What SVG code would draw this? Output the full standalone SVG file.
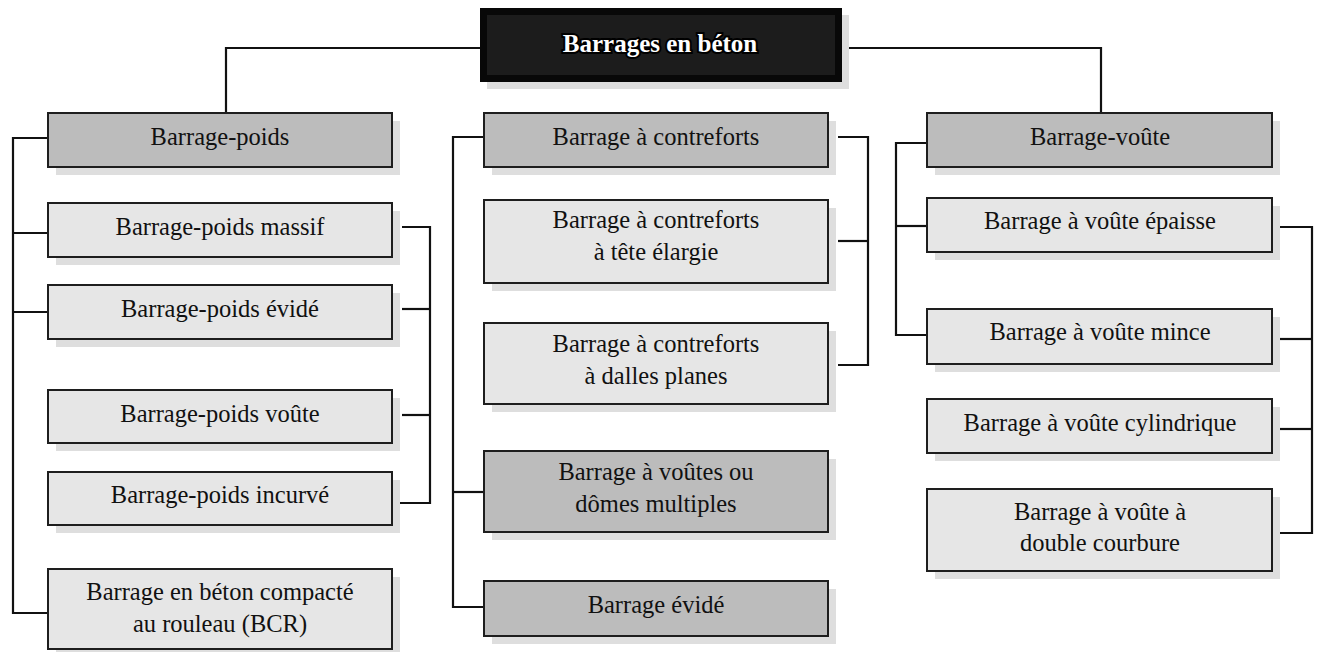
<svg xmlns="http://www.w3.org/2000/svg" width="1318" height="652" viewBox="0 0 1318 652">
<style>
.sh{fill:#dedede}
.lt{fill:#e6e6e6;stroke:#1e1e1e;stroke-width:2}
.dk{fill:#bcbcbc;stroke:#1e1e1e;stroke-width:2}
.t{font-family:"Liberation Serif","Times New Roman",serif;font-size:24.5px;fill:#111;text-anchor:middle}
.tt{font-family:"Liberation Serif","Times New Roman",serif;font-size:25px;font-weight:bold;fill:#fff;text-anchor:middle}
.c{fill:none;stroke:#111;stroke-width:2.2}
</style>
<rect width="1318" height="652" fill="#fff"/>
<g id="connectors">
<polyline class="c" points="480,48 226,48 226,113"/>
<polyline class="c" points="848,48 1101,48 1101,113"/>
<polyline class="c" points="48,138 13,138 13,613 48,613"/>
<line class="c" x1="13" y1="233" x2="48" y2="233"/>
<line class="c" x1="13" y1="312" x2="48" y2="312"/>
<polyline class="c" points="402,227 430,227 430,503 392,503"/>
<line class="c" x1="402" y1="309" x2="430" y2="309"/>
<line class="c" x1="402" y1="415" x2="430" y2="415"/>
<polyline class="c" points="484,137 453,137 453,607 484,607"/>
<line class="c" x1="453" y1="492" x2="484" y2="492"/>
<polyline class="c" points="838,137 868,137 868,365 838,365"/>
<line class="c" x1="838" y1="241" x2="868" y2="241"/>
<polyline class="c" points="927,143 896,143 896,335 927,335"/>
<line class="c" x1="896" y1="226" x2="927" y2="226"/>
<polyline class="c" points="1280,227 1312,227 1312,533 1280,533"/>
<line class="c" x1="1280" y1="339" x2="1312" y2="339"/>
<line class="c" x1="1280" y1="429" x2="1312" y2="429"/>
</g>
<g id="root">
<rect class="sh" x="487" y="15" width="362" height="74"/>
<rect x="480" y="8" width="362" height="74" fill="#080808"/>
<rect x="487" y="15" width="348" height="60" fill="#1c1c1c"/>
<text class="tt" x="660" y="52" stroke="#000" stroke-width="4" paint-order="stroke">Barrages en béton</text>
</g>
<g id="poids">
<rect class="sh" x="56" y="121" width="344" height="54"/>
<rect class="dk" x="48" y="113" width="344" height="54"/>
<text class="t" x="220" y="145">Barrage-poids</text>
</g>
<g id="poids-massif">
<rect class="sh" x="56" y="211" width="344" height="54"/>
<rect class="lt" x="48" y="203" width="344" height="54"/>
<text class="t" x="220" y="235">Barrage-poids massif</text>
</g>
<g id="poids-evide">
<rect class="sh" x="56" y="293" width="344" height="54"/>
<rect class="lt" x="48" y="285" width="344" height="54"/>
<text class="t" x="220" y="317">Barrage-poids évidé</text>
</g>
<g id="poids-voute">
<rect class="sh" x="56" y="398" width="344" height="53"/>
<rect class="lt" x="48" y="390" width="344" height="53"/>
<text class="t" x="220" y="422">Barrage-poids voûte</text>
</g>
<g id="poids-incurve">
<rect class="sh" x="56" y="480" width="344" height="53"/>
<rect class="lt" x="48" y="472" width="344" height="53"/>
<text class="t" x="220" y="503">Barrage-poids incurvé</text>
</g>
<g id="bcr">
<rect class="sh" x="56" y="577" width="344" height="80"/>
<rect class="lt" x="48" y="569" width="344" height="80"/>
<text class="t" x="220" y="600">Barrage en béton compacté</text>
<text class="t" x="220" y="632">au rouleau (BCR)</text>
</g>
<g id="contreforts">
<rect class="sh" x="492" y="121" width="344" height="54"/>
<rect class="dk" x="484" y="113" width="344" height="54"/>
<text class="t" x="656" y="145">Barrage à contreforts</text>
</g>
<g id="contreforts-tete">
<rect class="sh" x="492" y="208" width="344" height="83"/>
<rect class="lt" x="484" y="200" width="344" height="83"/>
<text class="t" x="656" y="228">Barrage à contreforts</text>
<text class="t" x="656" y="260">à tête élargie</text>
</g>
<g id="contreforts-dalles">
<rect class="sh" x="492" y="331" width="344" height="81"/>
<rect class="lt" x="484" y="323" width="344" height="81"/>
<text class="t" x="656" y="352">Barrage à contreforts</text>
<text class="t" x="656" y="384">à dalles planes</text>
</g>
<g id="voutes-multiples">
<rect class="sh" x="492" y="459" width="344" height="81"/>
<rect class="dk" x="484" y="451" width="344" height="81"/>
<text class="t" x="656" y="480">Barrage à voûtes ou</text>
<text class="t" x="656" y="512">dômes multiples</text>
</g>
<g id="evide">
<rect class="sh" x="492" y="589" width="344" height="55"/>
<rect class="dk" x="484" y="581" width="344" height="55"/>
<text class="t" x="656" y="613">Barrage évidé</text>
</g>
<g id="voute">
<rect class="sh" x="935" y="121" width="345" height="54"/>
<rect class="dk" x="927" y="113" width="345" height="54"/>
<text class="t" x="1100" y="145">Barrage-voûte</text>
</g>
<g id="voute-epaisse">
<rect class="sh" x="935" y="206" width="345" height="54"/>
<rect class="lt" x="927" y="198" width="345" height="54"/>
<text class="t" x="1100" y="229">Barrage à voûte épaisse</text>
</g>
<g id="voute-mince">
<rect class="sh" x="935" y="317" width="345" height="55"/>
<rect class="lt" x="927" y="309" width="345" height="55"/>
<text class="t" x="1100" y="340">Barrage à voûte mince</text>
</g>
<g id="voute-cylindrique">
<rect class="sh" x="935" y="407" width="345" height="54"/>
<rect class="lt" x="927" y="399" width="345" height="54"/>
<text class="t" x="1100" y="431">Barrage à voûte cylindrique</text>
</g>
<g id="voute-double">
<rect class="sh" x="935" y="497" width="345" height="82"/>
<rect class="lt" x="927" y="489" width="345" height="82"/>
<text class="t" x="1100" y="520">Barrage à voûte à</text>
<text class="t" x="1100" y="551">double courbure</text>
</g>
</svg>
